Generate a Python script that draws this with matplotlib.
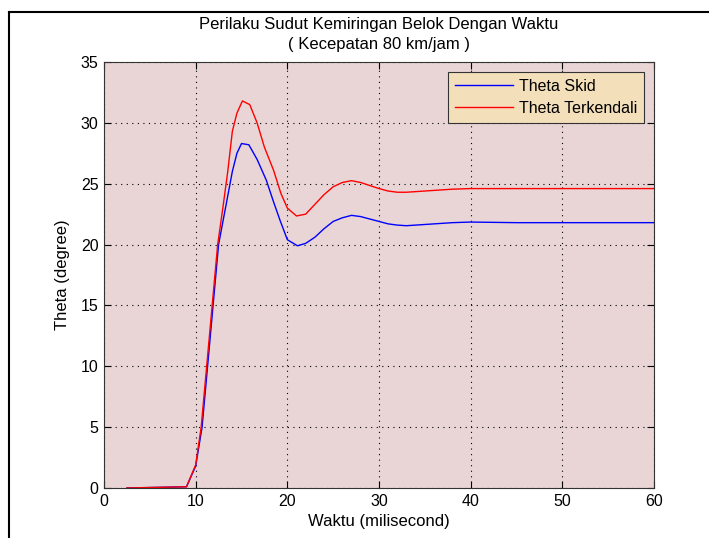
import numpy as np
import matplotlib
matplotlib.use("Agg")
from matplotlib import pyplot as plt
from matplotlib.lines import Line2D

plt.rcParams['font.family'] = ['Liberation Sans Narrow', 'Liberation Sans', 'DejaVu Sans']

# data (waktu in ms, theta in degree)
t_skid = [2.5, 9, 10, 10.7, 11.3, 11.9, 12.5, 13, 13.5, 14, 14.5, 15, 15.8, 16.7, 17.7, 18.5,
          19.2, 20, 21.1, 22, 23, 24, 25, 26, 27, 28, 29, 30, 31, 32, 33, 34, 36, 38, 40, 45, 60]
theta_skid = [0, 0.1, 1.8, 5, 10, 15, 20, 22, 24, 26, 27.5, 28.3, 28.2, 27, 25.3, 23.5,
              22, 20.4, 19.9, 20.1, 20.6, 21.3, 21.9, 22.2, 22.4, 22.3, 22.1, 21.9, 21.7, 21.6,
              21.55, 21.6, 21.7, 21.8, 21.85, 21.8, 21.8]

t_ken = [2.5, 9, 10, 10.6, 11.2, 11.8, 12.4, 13, 13.5, 14, 14.5, 15.1, 15.9, 16.7, 17.5, 18.5,
         19.3, 20, 21, 22, 23, 24, 25, 26, 27, 28, 29, 30, 31, 32, 33, 34, 36, 38, 40, 45, 60]
theta_ken = [0, 0.1, 1.9, 5, 10, 15, 20, 23.2, 26, 29.3, 30.8, 31.8, 31.5, 30, 28, 26.1,
             24.2, 23.0, 22.35, 22.5, 23.3, 24.1, 24.75, 25.1, 25.25, 25.1, 24.85, 24.6, 24.4,
             24.3, 24.3, 24.35, 24.45, 24.55, 24.6, 24.6, 24.6]

xticks = [0, 10, 20, 30, 40, 50, 60]
yticks = [0, 5, 10, 15, 20, 25, 30, 35]

fig = plt.figure(figsize=(7.09, 5.38), dpi=100)
ax = fig.add_axes([104/709, 1 - 488/538, 550/709, 426/538])
ax.set_facecolor('#E9D5D5')

ax.plot(t_skid, theta_skid, color='#0000FF', lw=1.0, label='Theta Skid')
ax.plot(t_ken, theta_ken, color='#FF0000', lw=1.0, label='Theta Terkendali')

ax.set_xlim(0, 60)
ax.set_ylim(0, 35)
ax.set_xticks(xticks)
ax.set_yticks(yticks)
ax.tick_params(direction='in', top=True, right=True, length=5, labelsize=11.5, pad=4)
ax.grid(True, color='black', linestyle=(0, (1, 4)), linewidth=0.8)
for s in ax.spines.values():
    s.set_color('#333333')

ax.set_title('Perilaku Sudut Kemiringan Belok Dengan Waktu\n( Kecepatan 80 km/jam )',
             fontsize=12, pad=9, linespacing=1.45)
ax.set_xlabel('Waktu (milisecond)', fontsize=12, labelpad=4)
ax.set_ylabel('Theta (degree)', fontsize=12, labelpad=8)

leg = ax.legend(loc='upper right', fontsize=11.5, fancybox=False, framealpha=1,
                facecolor='#F4DFBB', edgecolor='#333333', borderaxespad=0.6,
                handlelength=3.6, handletextpad=0.4, borderpad=0.45, labelspacing=0.45)
leg.get_frame().set_linewidth(0.8)

# border of the pasted picture
fig.add_artist(Line2D([9/709, 9/709], [0, 1 - 12/538], color='black', lw=1.5, transform=fig.transFigure))
fig.add_artist(Line2D([9/709, 1], [1 - 12/538, 1 - 12/538], color='black', lw=1.5, transform=fig.transFigure))

fig.savefig('out.png', dpi=100)
